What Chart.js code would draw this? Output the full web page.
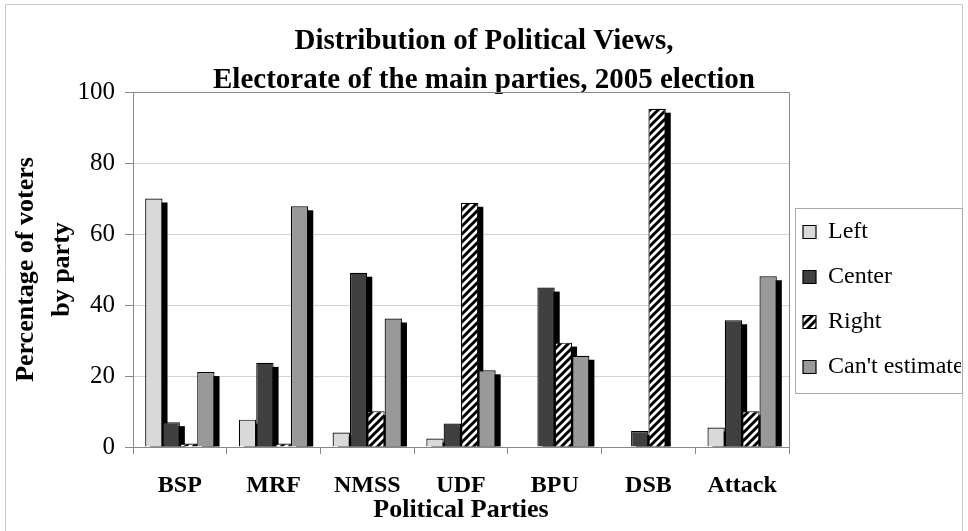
<!DOCTYPE html>
<html lang="en">
<head>
  <meta charset="UTF-8">
  <title>Distribution of Political Views</title>
  <script src="https://cdn.jsdelivr.net/npm/chart.js"></script>
  <style>
    body { margin: 0; background: #fff; }
    #wrap { width: 968px; height: 531px; }
  </style>
</head>
<body>
  <div id="wrap"><canvas id="chart" width="968" height="531"></canvas></div>
  <script>
    const parties = ['BSP', 'MRF', 'NMSS', 'UDF', 'BPU', 'DSB', 'Attack'];
    const seriesNames = ['Left', 'Center', 'Right', "Can't estimate"];
    const leftValues   = [70, 7.7, 4.1, 2.4, 0, 0, 5.5];
    const centerValues = [7, 23.7, 49.1, 6.6, 44.9, 4.5, 35.7];
    const rightValues  = [1, 1, 10.1, 68.8, 29.4, 95.3, 10.1];
    const cantValues   = [21.1, 67.8, 36.2, 21.6, 25.7, 0, 48.1];

    const serif = "'Liberation Serif', 'Times New Roman', serif";

    // white with black "/" stripes for the Right series
    const stripes = (function () {
      const c = document.createElement('canvas');
      c.width = 8; c.height = 8;
      const g = c.getContext('2d');
      g.fillStyle = '#fff';
      g.fillRect(0, 0, 8, 8);
      g.strokeStyle = '#000';
      g.lineWidth = 3;
      g.beginPath();
      g.moveTo(-2, 10); g.lineTo(10, -2);
      g.moveTo(-2, 2); g.lineTo(2, -2);
      g.moveTo(6, 10); g.lineTo(10, 6);
      g.stroke();
      return g.createPattern(c, 'repeat');
    })();

    // move the legend next to the plot like in the original
    const legendPlace = {
      id: 'legendPlace',
      afterLayout(chart) {
        const lg = chart.legend, area = chart.chartArea;
        const w = lg.width, h = lg.height;
        lg.left = area.right - 7; lg.right = lg.left + w;
        lg.top = area.top + 107; lg.bottom = lg.top + h;
      }
    };

    // black drop shadow to the right of each bar
    const barShadow = {
      id: 'barShadow',
      beforeDatasetsDraw(chart) {
        const ctx = chart.ctx;
        ctx.save();
        ctx.fillStyle = '#000';
        chart.data.datasets.forEach((ds, i) => {
          chart.getDatasetMeta(i).data.forEach(bar => {
            const p = bar.getProps(['x', 'y', 'base', 'width'], true);
            const top = p.y + 4;
            if (p.base - top > 0) ctx.fillRect(p.x - p.width / 2 + 5, top, p.width, p.base - top);
          });
        });
        ctx.restore();
      }
    };

    // outer frame, plot border and legend box
    const frames = {
      id: 'frames',
      afterDraw(chart) {
        const ctx = chart.ctx, a = chart.chartArea, lg = chart.legend;
        ctx.save();
        ctx.lineWidth = 1;
        ctx.strokeStyle = '#c8c8c8';
        ctx.beginPath();
        ctx.moveTo(5.5, 531); ctx.lineTo(5.5, 4.5); ctx.lineTo(962.5, 4.5); ctx.lineTo(962.5, 531);
        ctx.stroke();
        ctx.strokeStyle = '#888';
        ctx.beginPath();
        ctx.moveTo(a.left, a.top + 0.5); ctx.lineTo(Math.round(a.right) + 0.5, a.top + 0.5);
        ctx.lineTo(Math.round(a.right) + 0.5, a.bottom);
        ctx.stroke();
        ctx.strokeStyle = '#aaa';
        ctx.strokeRect(Math.round(lg.left) + 13.5, Math.round(lg.top) + 9.5, 167, 185);
        ctx.restore();
      }
    };

    new Chart(document.getElementById('chart'), {
      type: 'bar',
      data: {
        labels: parties,
        datasets: [
          { label: seriesNames[0], data: leftValues, backgroundColor: '#d9d9d9' },
          { label: seriesNames[1], data: centerValues, backgroundColor: '#404040' },
          { label: seriesNames[2], data: rightValues, backgroundColor: stripes },
          { label: seriesNames[3], data: cantValues, backgroundColor: '#999999' }
        ]
      },
      options: {
        responsive: false,
        animation: false,
        layout: { padding: 0 },
        datasets: {
          bar: {
            categoryPercentage: 0.74,
            barPercentage: 1,
            borderColor: '#000',
            borderWidth: 1.2,
            borderSkipped: 'start'
          }
        },
        plugins: {
          title: {
            display: true,
            text: ['Distribution of Political Views,', 'Electorate of the main parties, 2005 election'],
            font: { family: serif, size: 29, weight: 'bold', lineHeight: '39px' },
            color: '#000',
            padding: { top: 22.5, bottom: -8.5 }
          },
          legend: {
            position: 'right',
            align: 'start',
            maxWidth: 179,
            labels: {
              font: { family: serif, size: 24 },
              color: '#000',
              boxWidth: 13,
              boxHeight: 13,
              padding: 21
            }
          },
          tooltip: { enabled: false }
        },
        scales: {
          x: {
            grid: { drawOnChartArea: false, tickLength: 7, tickColor: '#888', offset: true },
            border: { color: '#888' },
            ticks: { font: { family: serif, size: 24, weight: 'bold' }, color: '#000', padding: 17, maxRotation: 0 },
            title: {
              display: true,
              text: 'Political Parties',
              font: { family: serif, size: 26, weight: 'bold' },
              color: '#000',
              padding: { top: 0, bottom: 5 }
            },
            afterFit(scale) { scale.height = 84; }
          },
          y: {
            min: 0,
            max: 100,
            ticks: { stepSize: 20, font: { family: serif, size: 25 }, color: '#000', padding: 10 },
            grid: {
              color: c => (c.tick && c.tick.value === 100) ? '#888' : '#d4d4d4',
              tickLength: 8,
              tickColor: '#888'
            },
            border: { color: '#888' },
            title: {
              display: true,
              text: ['Percentage of voters', 'by party'],
              font: { family: serif, size: 26, weight: 'bold', lineHeight: '36px' },
              color: '#000',
              padding: { top: 8, bottom: 0 }
            },
            afterFit(scale) { scale.width = 133; }
          }
        }
      },
      plugins: [legendPlace, barShadow, frames]
    });
  </script>
</body>
</html>
